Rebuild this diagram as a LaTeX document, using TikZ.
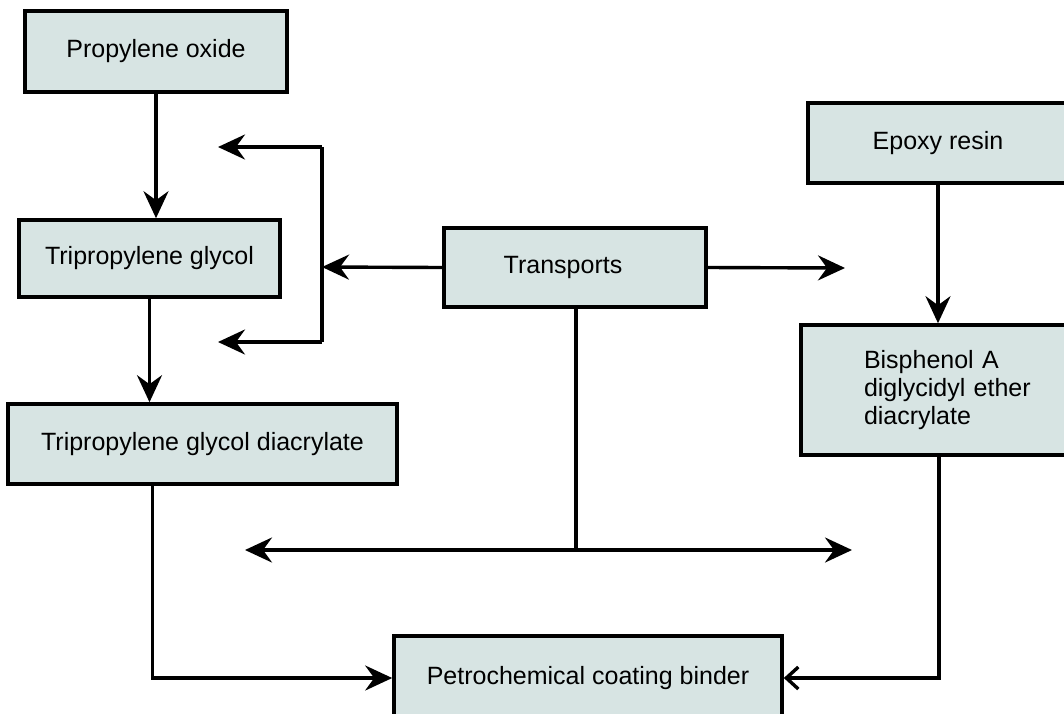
\documentclass[tikz,border=0pt]{standalone}
\usepackage{fontspec}
\setmainfont{Liberation Sans}
\usetikzlibrary{arrows.meta}
\definecolor{boxfill}{RGB}{215,228,227}
\begin{document}
\begin{tikzpicture}[x=1pt,y=-1pt,
  box/.style={draw=black, line width=3.6pt, fill=boxfill, inner sep=0pt,
    font=\fontsize{25}{28}\selectfont},
  arr/.style={line width=3.4pt, -{Stealth[length=27pt,width=25pt,inset=9pt]}},
  openarr/.style={line width=3.4pt, -{Straight Barb[length=12pt,width=22pt,line width=3.4pt]}},
  link/.style={line width=3.4pt}]
\useasboundingbox (0,0) rectangle (1064,713);
\clip (0,0) rectangle (1064,713);
\fill[white] (0,0) rectangle (1064,713);

\node[box, minimum width=262, minimum height=81] (po) at (156,51.5) {Propylene oxide};
\node[box, minimum width=261, minimum height=77] (tpg) at (149.5,258.5) {Tripropylene glycol};
\node[box, minimum width=389, minimum height=80] (tpgda) at (202.5,444) {Tripropylene glycol diacrylate};
\node[box, minimum width=262, minimum height=79] (tr) at (575,267.5) {\hspace*{-24pt}Transports};
\node[box, minimum width=260, minimum height=80] (ep) at (938,143) {Epoxy resin};
\node[box, minimum width=266, minimum height=130, align=left, text width=210, inner xsep=0pt] (bis) at (934,390)
  {\hspace*{35pt}Bisphenol A\\\hspace*{35pt}diglycidyl ether\\\hspace*{35pt}diacrylate};
\node[box, minimum width=388, minimum height=84] (pcb) at (588,678) {Petrochemical coating binder};

% coordinates
\coordinate (J) at (322,267);
\coordinate (Jt) at (322,147);
\coordinate (Jb) at (322,342);
\coordinate (At) at (218,147);
\coordinate (Ab) at (218,342);
\coordinate (Er) at (845,268);
\coordinate (M) at (576,550);
\coordinate (L) at (245,550);
\coordinate (R) at (852,550);

% left chain
\draw[arr] (po.south) -- (po.south |- tpg.north);
\draw[arr] (tpg.south) -- (tpg.south |- tpgda.north);
\draw[arr] ([xshift=-50pt]tpgda.south) |- (pcb.west);

% transports
\draw[arr] (tr.west) -- (J);
\draw[link] (Jt) -- (Jb);
\draw[arr] (Jt) -- (At);
\draw[arr] (Jb) -- (Ab);
\draw[arr] (tr.east) -- (Er);
\draw[link] ([xshift=1pt]tr.south) -- (M);
\draw[arr] (M) -- (L);
\draw[arr] (M) -- (R);

% right chain
\draw[arr] (ep.south) -- (ep.south |- bis.north);
\draw[openarr] ([xshift=5pt]bis.south) |- (pcb.east);
\end{tikzpicture}
\end{document}
